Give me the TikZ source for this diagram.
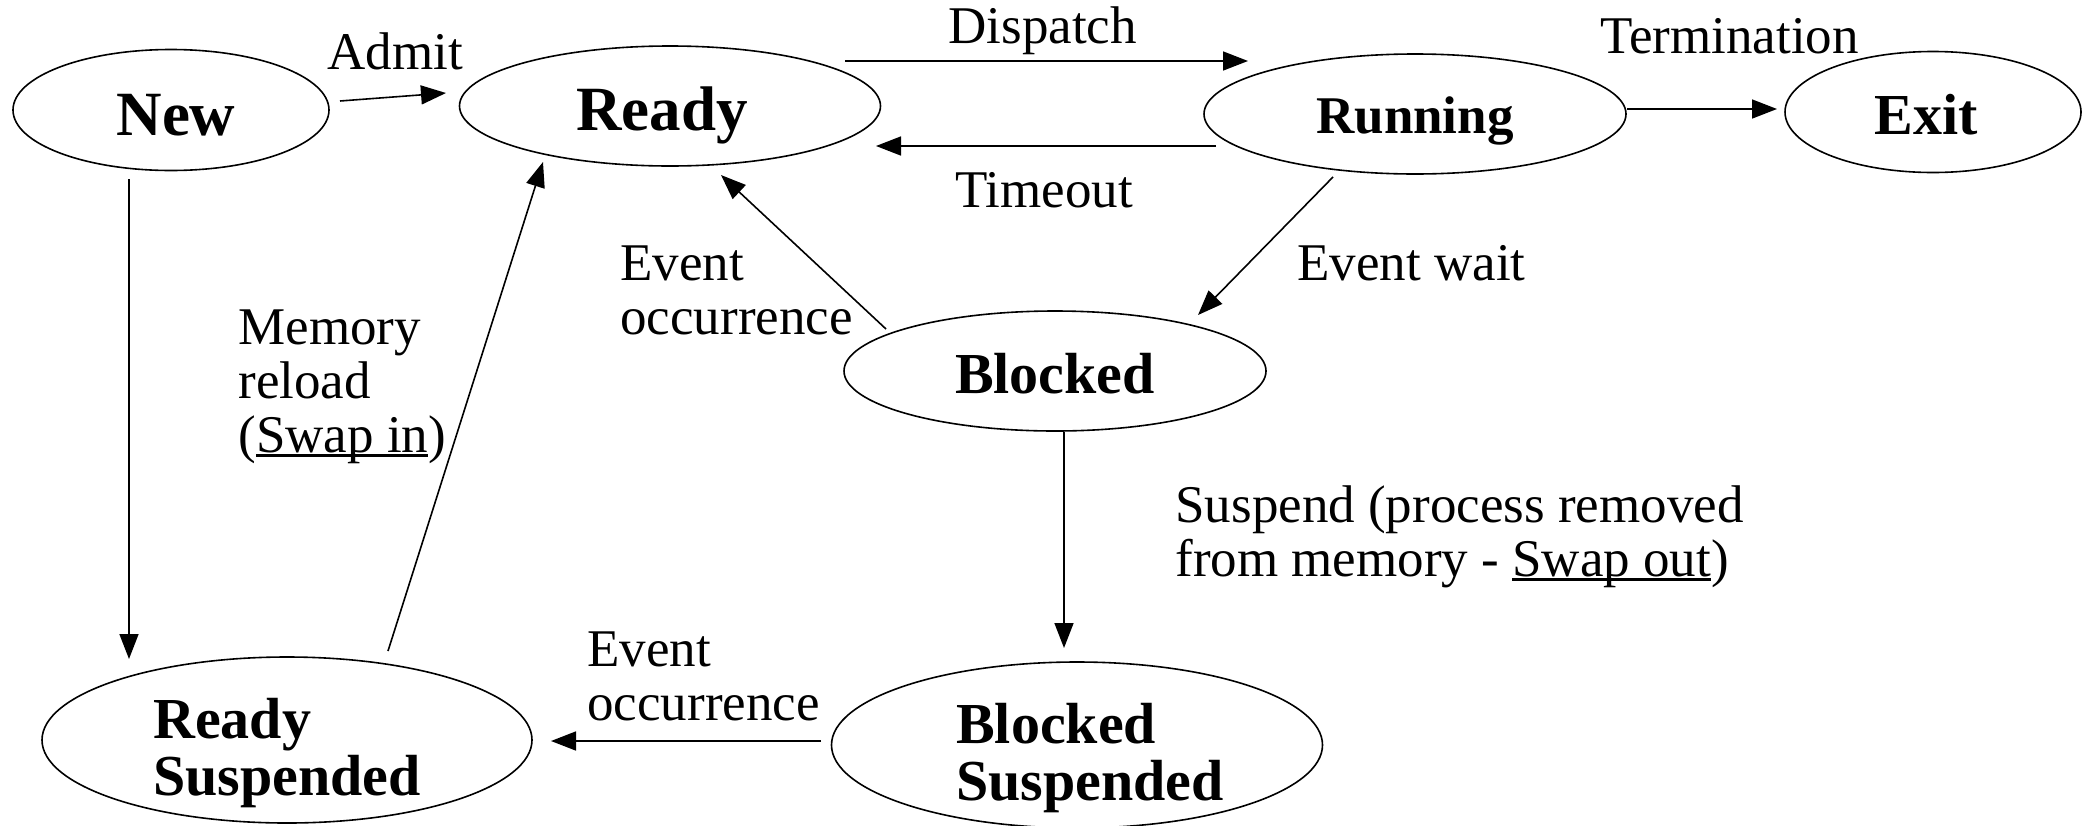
\documentclass[tikz,border=0pt]{standalone}
\usepackage{fontspec}
\setmainfont{Liberation Serif}
\usetikzlibrary{arrows.meta,shapes.geometric,calc}
\newcommand{\lblfont}{\fontsize{26.5pt}{27pt}\selectfont}
\newcommand{\mlines}[1]{\begin{tabular}[t]{@{}l@{}}#1\end{tabular}}
\newlength{\ulwidth}
\newcommand{\myul}[1]{\settowidth{\ulwidth}{#1}\rlap{\rule[-0.085em]{\ulwidth}{0.05em}}#1}
\begin{document}
\begin{tikzpicture}[x=0.5pt,y=-0.5pt,
  state/.style={draw, ellipse, line width=0.8pt, inner sep=0pt, text depth=0pt},
  bigfont/.style={font=\bfseries\fontsize{31.5pt}{31.5pt}\selectfont},
  midfont/.style={font=\bfseries\fontsize{29pt}{28.5pt}\selectfont},
  smallfont/.style={font=\bfseries\fontsize{26.5pt}{26.5pt}\selectfont},
  twoline/.style={text height=7pt, text depth=8.4pt},
  arr/.style={-{Triangle[length=12.5pt,width=9.5pt]}, line width=0.8pt},
  lbl/.style={anchor=base west, inner sep=0pt, font=\lblfont}]
\useasboundingbox (0,0) rectangle (2082,825);

% states
\node[state,bigfont,text height=25pt,minimum width=158pt,minimum height=60.5pt] (new) at (171,110) {\hspace*{5pt}New};
\node[state,bigfont,text height=24pt,minimum width=210.5pt,minimum height=60pt] (ready) at (670,106) {Ready\hspace*{8pt}};
\node[state,smallfont,text height=19pt,minimum width=211pt,minimum height=60pt] (running) at (1415,114) {Running};
\node[state,midfont,text height=22pt,minimum width=148pt,minimum height=60.5pt] (exit) at (1933,112) {Exit\hspace*{7pt}};
\node[state,midfont,text height=22pt,minimum width=211pt,minimum height=60pt] (blocked) at (1055,371) {Blocked};
\node[state,midfont,twoline,minimum width=245pt,minimum height=83pt] (rsusp) at (287,740) {\mlines{Ready\\Suspended}};
\node[state,midfont,twoline,minimum width=245.5pt,minimum height=83pt] (bsusp) at (1077,745) {\hspace*{13pt}\mlines{Blocked\\Suspended}};

% connectors
\draw[arr] ($(new)+(169,-9)$) -- ($(ready)+(-224,-13)$);
\draw[arr] ($(ready)+(175,-45)$) -- ($(running)+(-167,-53)$);
\draw[arr] ($(running)+(-199,32)$) -- ($(ready)+(206,40)$);
\draw[arr] ($(running)+(212,-5)$) -- ($(exit)+(-156,-3)$);
\draw[arr] ($(running)+(-82,63)$) -- ($(blocked)+(143,-56)$);
\draw[arr] ($(blocked)+(-169,-42)$) -- ($(ready)+(51,69)$);
\draw[arr] ($(new)+(-42,69)$) -- ($(rsusp)+(-158,-81)$);
\draw[arr] ($(rsusp)+(101,-89)$) -- ($(ready)+(-127,56)$);
\draw[arr] ($(blocked)+(9,61)$) -- ($(bsusp)+(-13,-97)$);
\draw[arr] ($(bsusp)+(-256,-4)$) -- ($(rsusp)+(264,1)$);

% labels
\node[lbl] (ladmit) at (327,69) {Admit};
\node[lbl] (ldispatch) at (948,43) {Dispatch};
\node[lbl] (lterm) at (1600,53) {Termination};
\node[lbl] (ltimeout) at (955,207) {Timeout};
\node[lbl] (lwait) at (1297,280) {Event wait};
\node[lbl] (loccur) at (620,280) {\mlines{Event\\occurrence}};
\node[lbl] (lreload) at (238,344) {\mlines{Memory\\reload\\(\myul{Swap in})}};
\node[lbl] (lsuspend) at (1175,522) {\mlines{Suspend (process removed\\from memory - \myul{Swap out})}};
\node[lbl] (loccur2) at (587,666) {\mlines{Event\\occurrence}};
\end{tikzpicture}
\end{document}
